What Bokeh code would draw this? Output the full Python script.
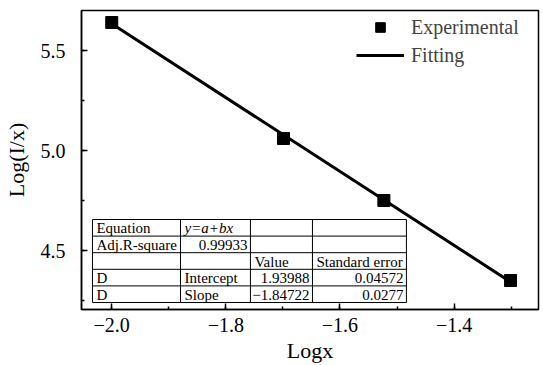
from bokeh.plotting import figure
from bokeh.models import FixedTicker, Legend, LegendItem, Range1d
from bokeh.core.properties import value
from bokeh.embed import file_html
from bokeh.resources import INLINE

# ---- data ----
log_x = [-2.0, -1.699, -1.523, -1.301]
log_Ix = [5.64, 5.06, 4.75, 4.35]
fit_x = [-2.0, -1.301]
fit_y = [5.634, 4.343]

x_ticks = [-2.0, -1.8, -1.6, -1.4]
x_tick_labels = ["\u22122.0", "\u22121.8", "\u22121.6", "\u22121.4"]
x_minor = [-2.0, -1.9, -1.8, -1.7, -1.6, -1.5, -1.4, -1.3]
y_ticks = [4.5, 5.0, 5.5]
y_tick_labels = ["4.5", "5.0", "5.5"]
y_minor = [4.25, 4.5, 4.75, 5.0, 5.25, 5.5]

table_col0 = ["Equation", "Adj.R-square", "", "D", "D"]
table_col1 = ["y=a+bx", "0.99933", "", "Intercept", "Slope"]
table_col2 = ["", "", "Value", "1.93988", "\u22121.84722"]
table_col3 = ["", "", "Standard error", "0.04572", "0.0277"]

# ---- layout constants ----
FONT = "Liberation Serif"
tbl_edges_x = [-2.0338, -1.8795, -1.7569, -1.6482, -1.4835]
tbl_top = 4.655
tbl_row_h = 0.083
px = 1 / 570.5  # data units per pixel in x
py = 1 / 200.0

p = figure(width=535, height=357, output_backend="svg", toolbar_location=None,
           x_range=Range1d(-2.053, -1.252), y_range=Range1d(4.205, 5.70),
           min_border_left=78, min_border_right=3, min_border_top=10, min_border_bottom=48)
p.frame_width = 457
p.frame_height = 299
p.xgrid.visible = False
p.ygrid.visible = False
p.outline_line_color = "black"
p.outline_line_width = 1.5
p.background_fill_color = "white"
p.border_fill_color = "white"

fit_r = p.line(fit_x, fit_y, line_color="black", line_width=3)
exp_r = p.scatter(log_x, log_Ix, marker="square", size=12, fill_color="black", line_color="black")

# table
n_rows = len(table_col0)
tbl_bottom = tbl_top - n_rows * tbl_row_h
p.quad(left=[tbl_edges_x[0]], right=[tbl_edges_x[-1]], top=[tbl_top], bottom=[tbl_bottom],
       fill_color="white", line_color=None)
hx0, hx1, hy = [], [], []
for i in range(n_rows + 1):
    y = tbl_top - i * tbl_row_h
    hx0.append(tbl_edges_x[0]); hx1.append(tbl_edges_x[-1]); hy.append(y)
p.segment(x0=hx0, y0=hy, x1=hx1, y1=hy, line_color="black", line_width=1)
p.segment(x0=tbl_edges_x, y0=[tbl_top] * len(tbl_edges_x), x1=tbl_edges_x,
          y1=[tbl_bottom] * len(tbl_edges_x), line_color="black", line_width=1)

def is_num(s):
    return len(s) > 0 and (s[0].isdigit() or s[0] == "\u2212")

cols = [table_col0, table_col1, table_col2, table_col3]
lx, ly, lt = [], [], []
rx, ry, rt = [], [], []
for ci, col in enumerate(cols):
    for ri, t in enumerate(col):
        if not t or (ci == 1 and ri == 0):
            continue
        yc = tbl_top - (ri + 0.5) * tbl_row_h - 0.5 * py
        if is_num(t):
            rx.append(tbl_edges_x[ci + 1] - 3 * px); ry.append(yc); rt.append(t)
        else:
            lx.append(tbl_edges_x[ci] + 4 * px); ly.append(yc); lt.append(t)
p.text(lx, ly, text=lt, text_font=value(FONT), text_font_size="15px",
       text_align="left", text_baseline="middle", text_color="black")
p.text(rx, ry, text=rt, text_font=value(FONT), text_font_size="15px",
       text_align="right", text_baseline="middle", text_color="black")
p.text([tbl_edges_x[1] + 4 * px], [tbl_top - 0.5 * tbl_row_h - 0.5 * py], text=[table_col1[0]],
       text_font=value(FONT), text_font_size="15px", text_font_style="italic",
       text_align="left", text_baseline="middle", text_color="black")

# axes
for ax in (p.xaxis[0], p.yaxis[0]):
    ax.axis_line_width = 1.5
    ax.axis_line_color = "black"
    ax.major_tick_line_width = 1.5
    ax.minor_tick_line_width = 1.5
    ax.major_tick_in = 6
    ax.major_tick_out = 0
    ax.minor_tick_in = 3
    ax.minor_tick_out = 0
    ax.major_label_text_font = FONT
    ax.major_label_text_font_size = "20px"
    ax.major_label_text_color = "black"
    ax.axis_label_text_font = FONT
    ax.axis_label_text_font_size = "22px"
    ax.axis_label_text_font_style = "normal"
    ax.axis_label_text_color = "black"

p.xaxis.ticker = FixedTicker(ticks=x_ticks, minor_ticks=x_minor)
p.xaxis.major_label_overrides = dict(zip(x_ticks, x_tick_labels))
p.yaxis.ticker = FixedTicker(ticks=y_ticks, minor_ticks=y_minor)
p.yaxis.major_label_overrides = dict(zip(y_ticks, y_tick_labels))
p.xaxis.axis_label = "Logx"
p.yaxis.axis_label = "Log(I/x)"
p.xaxis.major_label_standoff = 8
p.yaxis.major_label_standoff = 16
p.xaxis.axis_label_standoff = 3
p.yaxis.axis_label_standoff = 9

legend = Legend(items=[LegendItem(label="Experimental", renderers=[exp_r]),
                       LegendItem(label="Fitting", renderers=[fit_r])],
                location=(275, 242), padding=0, spacing=4, margin=0,
                glyph_width=48, glyph_height=24, label_height=24, label_standoff=7,
                label_text_font=FONT, label_text_font_size="20px",
                border_line_color=None, background_fill_alpha=0)
p.add_layout(legend)

open("out.html", "w").write(file_html(p, INLINE))
